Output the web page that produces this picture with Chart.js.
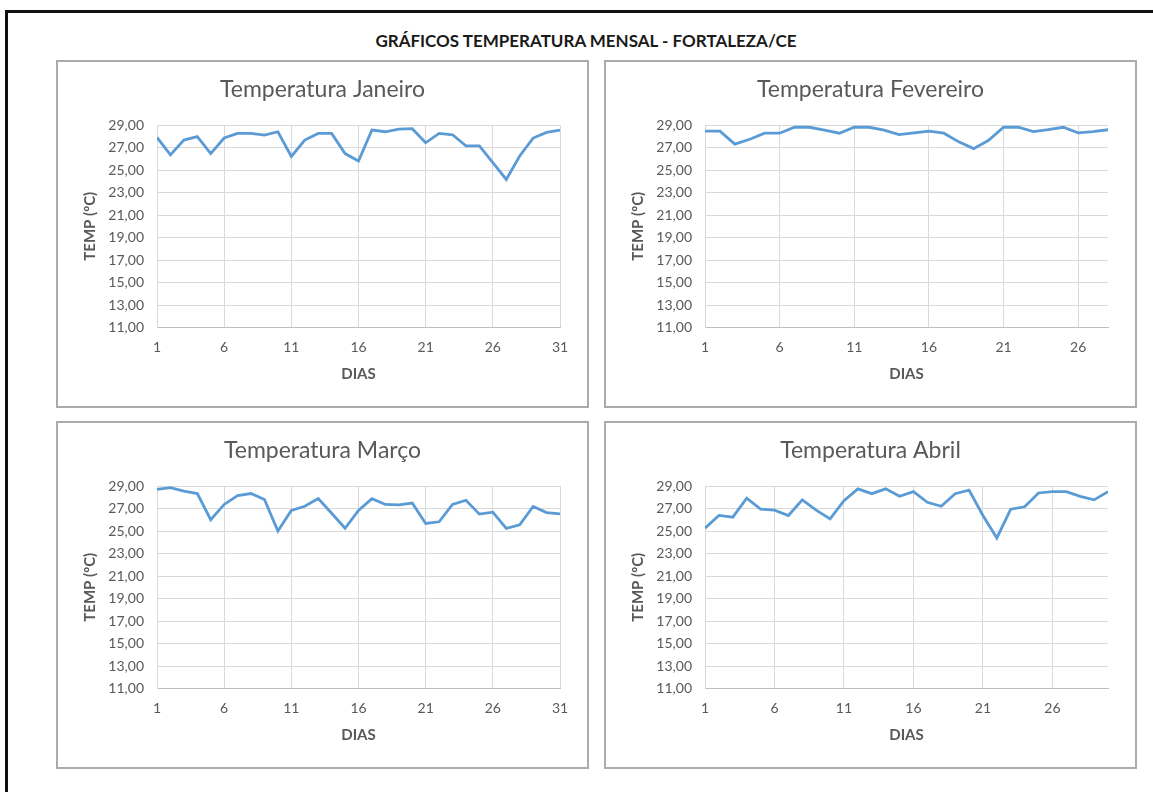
<!DOCTYPE html>
<html lang="pt-BR">
<head>
<meta charset="utf-8">
<title>Gráficos Temperatura Mensal - Fortaleza/CE</title>
<script src="https://cdn.jsdelivr.net/npm/chart.js@4/dist/chart.umd.min.js"></script>
<style>
  html, body { margin: 0; padding: 0; background: #fff; }
  body { width: 1153px; height: 792px; position: relative; overflow: hidden; font-family: Lato, "Open Sans", sans-serif; }
  .frame { position: absolute; left: 5px; top: 10px; width: 1300px; height: 900px;
           border-top: 3px solid #111; border-left: 3px solid #111; }
  .page-title { position: absolute; left: 336px; width: 500px; top: 30px; text-align: center;
                font-weight: 700; font-size: 17px; color: #1a1a1a; white-space: nowrap; }
  .box { position: absolute; width: 533px; height: 348px; box-shadow: inset 0 0 0 2px #ababab; }
  .box canvas { position: absolute; left: 0; top: 0; }
</style>
</head>
<body>
<div class="frame"></div>
<div class="page-title">GRÁFICOS TEMPERATURA MENSAL - FORTALEZA/CE</div>
<div class="box" style="left:56px;top:60px"><canvas id="cJan"></canvas></div>
<div class="box" style="left:604px;top:60px"><canvas id="cFev"></canvas></div>
<div class="box" style="left:56px;top:421px"><canvas id="cMar"></canvas></div>
<div class="box" style="left:604px;top:421px"><canvas id="cAbr"></canvas></div>
<script>
// Dias de cada mês
const diasJan = [1,2,3,4,5,6,7,8,9,10,11,12,13,14,15,16,17,18,19,20,21,22,23,24,25,26,27,28,29,30,31];
const diasFev = [1,2,3,4,5,6,7,8,9,10,11,12,13,14,15,16,17,18,19,20,21,22,23,24,25,26,27,28];
const diasMar = [1,2,3,4,5,6,7,8,9,10,11,12,13,14,15,16,17,18,19,20,21,22,23,24,25,26,27,28,29,30,31];
const diasAbr = [1,2,3,4,5,6,7,8,9,10,11,12,13,14,15,16,17,18,19,20,21,22,23,24,25,26,27,28,29,30];

// Temperatura média diária (ºC)
const tempJan = [27.90,26.34,27.66,27.96,26.46,27.84,28.25,28.25,28.10,28.40,26.20,27.66,28.25,28.25,26.46,25.80,
                 28.55,28.40,28.64,28.67,27.42,28.25,28.13,27.15,27.15,25.66,24.16,26.25,27.84,28.34,28.55];
const tempFev = [28.45,28.45,27.30,27.73,28.27,28.27,28.80,28.80,28.55,28.27,28.80,28.80,28.55,28.15,
                 28.30,28.45,28.27,27.50,26.90,27.64,28.80,28.80,28.42,28.58,28.80,28.30,28.42,28.58];
const tempMar = [28.70,28.85,28.55,28.33,26.00,27.36,28.15,28.33,27.80,25.00,26.82,27.20,27.88,26.58,25.24,26.82,
                 27.88,27.36,27.33,27.48,25.67,25.82,27.36,27.73,26.50,26.67,25.24,25.55,27.18,26.64,26.52];
const tempAbr = [25.25,26.38,26.23,27.92,26.94,26.85,26.38,27.77,26.85,26.08,27.70,28.75,28.32,28.75,28.08,
                 28.50,27.55,27.20,28.32,28.63,26.38,24.38,26.94,27.15,28.38,28.50,28.50,28.08,27.77,28.50];

// Rótulos dos eixos
const ticksX31 = [1,6,11,16,21,26,31];
const ticksX28 = [1,6,11,16,21,26];
const ticksX30 = [1,6,11,16,21,26];
const ticksY = [11,13,15,17,19,21,23,25,27,29];

const FONT = 'Lato, "Open Sans", sans-serif';
const GREY_TEXT = '#595959';
const GRID = '#d9d9d9';
const LINE = '#5b9bd5';

function graficoMes(id, titulo, dias, temps, ticksX) {
  const canvas = document.getElementById(id);
  const box = canvas.parentElement;
  canvas.width = box.clientWidth;
  canvas.height = box.clientHeight;
  return new Chart(canvas, {
    type: 'line',
    data: {
      datasets: [{
        data: dias.map((d, i) => ({ x: d, y: temps[i] })),
        borderColor: LINE,
        borderWidth: 2.8,
        pointRadius: 0,
        tension: 0,
        fill: false
      }]
    },
    options: {
      responsive: false,
      animation: false,
      layout: { padding: { left: 29, right: 29, top: 0, bottom: 0 } },
      plugins: {
        legend: { display: false },
        tooltip: { enabled: false },
        title: {
          display: true,
          text: titulo,
          color: GREY_TEXT,
          font: { family: FONT, size: 23, weight: 'normal' },
          padding: { top: 16.2, bottom: 21.2 }
        }
      },
      scales: {
        x: {
          type: 'linear',
          min: dias[0],
          max: dias[dias.length - 1],
          afterBuildTicks: s => { s.ticks = ticksX.map(v => ({ value: v })); },
          afterFit: s => { s.height = 80.5; },
          ticks: {
            color: GREY_TEXT, padding: 12, maxRotation: 0, autoSkip: false,
            font: { family: FONT, size: 14 },
            callback: v => String(v)
          },
          grid: { color: GRID, lineWidth: 1, drawTicks: false },
          border: { color: '#bfbfbf', width: 1 },
          title: {
            display: true, text: 'DIAS', color: GREY_TEXT,
            font: { family: FONT, size: 15, weight: 'bold' },
            padding: { top: 0, bottom: 25 }
          }
        },
        y: {
          type: 'linear',
          min: 11,
          max: 29,
          afterBuildTicks: s => { s.ticks = ticksY.map(v => ({ value: v })); },
          afterFit: s => { s.width = 72; },
          ticks: {
            color: GREY_TEXT, padding: 13,
            font: { family: FONT, size: 14 },
            callback: v => v.toFixed(2).replace('.', ',')
          },
          grid: { color: GRID, lineWidth: 1, drawTicks: false },
          border: { color: GRID, width: 1 },
          title: {
            display: true, text: 'TEMP (ºC)', color: GREY_TEXT,
            font: { family: FONT, size: 15, weight: 'bold' },
            padding: { top: -4, bottom: 0 }
          }
        }
      }
    }
  });
}

graficoMes('cJan', 'Temperatura Janeiro', diasJan, tempJan, ticksX31);
graficoMes('cFev', 'Temperatura Fevereiro', diasFev, tempFev, ticksX28);
graficoMes('cMar', 'Temperatura Março', diasMar, tempMar, ticksX31);
graficoMes('cAbr', 'Temperatura Abril', diasAbr, tempAbr, ticksX30);
</script>
</body>
</html>
